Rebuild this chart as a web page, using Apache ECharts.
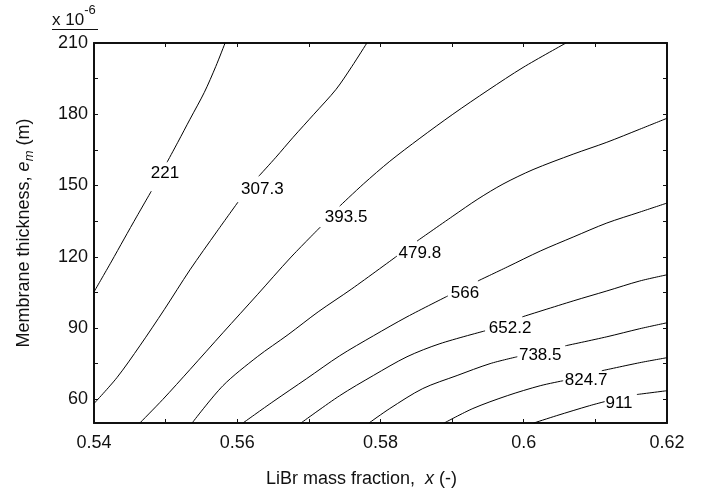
<!DOCTYPE html>
<html>
<head>
<meta charset="utf-8">
<script src="https://cdn.jsdelivr.net/npm/echarts@6/dist/echarts.min.js"></script>
<style>
html,body{margin:0;padding:0;background:#fff;}
#chart{width:718px;height:493px;}
</style>
</head>
<body>
<div id="chart"></div>
<script>
// Tick values
const xTicks = [0.54, 0.55, 0.56, 0.57, 0.58, 0.59, 0.60, 0.61, 0.62];
const xLabels = [0.54, 0.56, 0.58, 0.60, 0.62];
const yTicks = [60, 75, 90, 105, 120, 135, 150, 165, 180, 195, 210];
const yLabels = [60, 90, 120, 150, 180, 210];

// Contour lines [x, thickness (1e-6 m)]; null = gap for the inline label
const c221 = [[0.5583,210],[0.5570,200.1],[0.5554,189.2],[0.5534,177.9],[0.5517,168.2],[0.5502,159.8], null,
  [0.5480,147.6],[0.5460,137.1],[0.5442,127.5],[0.5424,117.8],[0.54,105.2]];
const c307 = [[0.5781,210],[0.5760,200.1],[0.5738,190.5],[0.5707,180.0],[0.5678,170.3],[0.5654,161.9],[0.5630,153.9], null,
  [0.5601,143.0],[0.5572,130.8],[0.5534,114.5],[0.5498,97.7],[0.5464,82.5],[0.5432,69.1],[0.54,58.2]];
const c393 = [[0.6059,210],[0.5999,199.7],[0.5950,190.1],[0.5901,180.0],[0.5855,169.9],[0.5813,160.2],[0.5776,150.6],[0.5743,141.3], null,
  [0.5716,132.5],[0.5674,119.5],[0.5628,104.0],[0.5580,88.0],[0.5534,72.5],[0.5496,59.9],[0.5464,50]];
const c479 = [[0.62,178.3],[0.6162,173.7],[0.6116,168.2],[0.6069,163.2],[0.6013,156.7],[0.5971,150.6],[0.5936,144.3],[0.5901,137.1],[0.5851,126.6], null,
  [0.5823,120.3],[0.5760,106.5],[0.5713,96.8],[0.5671,87.2],[0.5628,77.9],[0.5580,65.7],[0.5537,50]];
const c566 = [[0.62,142.6],[0.6162,138.8],[0.6116,134.2],[0.6069,128.3],[0.6023,122.4],[0.5977,115.7],[0.5936,109.8], null,
  [0.5894,103.5],[0.5837,94.7],[0.5790,86.7],[0.5743,78.3],[0.5697,68.7],[0.5650,59.0],[0.5608,50]];
const c652 = [[0.62,112.4],[0.6162,109.8],[0.6116,105.6],[0.6069,101.4],[0.5998,94.7], null,
  [0.5946,88.8],[0.5883,83.4],[0.5837,77.9],[0.5790,70.0],[0.5743,61.5],[0.5689,50]];
const c738 = [[0.62,92.2],[0.6162,89.7],[0.6116,86.3],[0.6058,82.5], null,
  [0.5991,77.9],[0.5953,75.0],[0.5907,70.0],[0.5859,64.5],[0.5813,56.1],[0.5784,50]];
const c824 = [[0.62,77.5],[0.6162,75.4],[0.6109,72.0], null,
  [0.6055,67.8],[0.6023,65.7],[0.5977,61.5],[0.5929,56.1],[0.5889,50]];
const c911 = [[0.62,63.6],[0.6158,62.0], null,
  [0.6113,59.0],[0.6092,57.3],[0.6046,53.1],[0.6014,50]];

// Contour labels
const labelText = ['221', '307.3', '393.5', '479.8', '566', '652.2', '738.5', '824.7', '911'];
const labelX = [0.5499, 0.5635, 0.5752, 0.5855, 0.5918, 0.5981, 0.6023, 0.6087, 0.6133];
const labelY = [155.2, 148.5, 136.7, 121.6, 104.8, 89.7, 78.3, 67.8, 58.2];

const FONT = "'Liberation Sans', Arial, Helvetica, sans-serif";
const contours = [c221, c307, c393, c479, c566, c652, c738, c824, c911];

function splitSegments(arr) {
  const segs = [];
  let cur = [];
  arr.forEach(p => {
    if (p === null) { if (cur.length) segs.push(cur); cur = []; }
    else cur.push(p);
  });
  if (cur.length) segs.push(cur);
  return segs;
}

const series = [];
contours.forEach(c => {
  splitSegments(c).forEach(seg => {
    series.push({
      type: 'line',
      data: seg,
      xAxisIndex: 0, yAxisIndex: 0,
      smooth: 0.3,
      symbol: 'none',
      silent: true,
      lineStyle: { color: '#000', width: 1 },
      z: 3
    });
  });
});
series.push({
  type: 'scatter',
  xAxisIndex: 0, yAxisIndex: 0,
  symbolSize: 0,
  silent: true,
  itemStyle: { opacity: 1 },
  data: labelText.map((t, i) => [labelX[i], labelY[i], t]),
  label: {
    show: true,
    position: 'inside',
    formatter: p => p.data[2],
    fontFamily: FONT,
    fontSize: 17,
    color: '#000',
    opacity: 1
  },
  z: 5
});

const axisLineStyle = { show: true, onZero: false, lineStyle: { color: '#111', width: 2 } };
const tickStyle = (vals) => ({ show: true, inside: true, length: 4, customValues: vals, lineStyle: { color: '#111', width: 1 } });

const option = {
  animation: false,
  backgroundColor: '#fff',
  grid: { left: 94, top: 43, width: 573, height: 382, containLabel: false },
  xAxis: [
    {
      type: 'value', position: 'bottom', min: 0.54, max: 0.62,
      axisLine: axisLineStyle,
      axisTick: tickStyle(xTicks),
      axisLabel: { customValues: xLabels, margin: 11, fontFamily: FONT, fontSize: 18, color: '#111',
        formatter: v => String(Math.round(v * 100) / 100) },
      splitLine: { show: false },
      name: 'LiBr mass fraction,  {i|x} (-)',
      nameLocation: 'middle', nameGap: 47,
      nameTextStyle: { fontFamily: FONT, fontSize: 18, color: '#111', padding: [0, 38, 0, 0],
        rich: { i: { fontFamily: FONT, fontSize: 18, fontStyle: 'italic', color: '#111' } } }
    },
    {
      type: 'value', position: 'top', min: 0.54, max: 0.62,
      axisLine: axisLineStyle,
      axisTick: tickStyle(xTicks),
      axisLabel: { show: false },
      splitLine: { show: false }
    }
  ],
  yAxis: [
    {
      type: 'value', position: 'left', min: 50, max: 210,
      axisLine: axisLineStyle,
      axisTick: tickStyle(yTicks),
      axisLabel: { customValues: yLabels, margin: 6, fontFamily: FONT, fontSize: 18, color: '#111' },
      splitLine: { show: false },
      name: 'Membrane thickness, {i|e}{s|m} (m)',
      nameLocation: 'middle', nameGap: 58, nameRotate: 90,
      nameTextStyle: { fontFamily: FONT, fontSize: 18, color: '#111', lineHeight: 24,
        rich: {
          i: { fontFamily: FONT, fontSize: 18, fontStyle: 'italic', color: '#111', lineHeight: 24 },
          s: { fontFamily: FONT, fontSize: 13, fontStyle: 'italic', color: '#111', verticalAlign: 'bottom' }
        } }
    },
    {
      type: 'value', position: 'right', min: 50, max: 210,
      axisLine: axisLineStyle,
      axisTick: tickStyle(yTicks),
      axisLabel: { show: false },
      splitLine: { show: false }
    }
  ],
  graphic: [
    {
      type: 'text', left: 52, top: 4,
      style: {
        text: '{a|x 10}{b|-6}',
        rich: {
          a: { fontFamily: FONT, fontSize: 17, fill: '#111', lineHeight: 25, verticalAlign: 'bottom' },
          b: { fontFamily: FONT, fontSize: 13, fill: '#111', verticalAlign: 'top' }
        }
      }
    },
    {
      type: 'line', shape: { x1: 52, y1: 29.5, x2: 98, y2: 29.5 },
      style: { stroke: '#111', lineWidth: 1 }
    }
  ],
  series: series
};

const chart = echarts.init(document.getElementById('chart'), null, { renderer: 'canvas' });
chart.setOption(option);
</script>
</body>
</html>
